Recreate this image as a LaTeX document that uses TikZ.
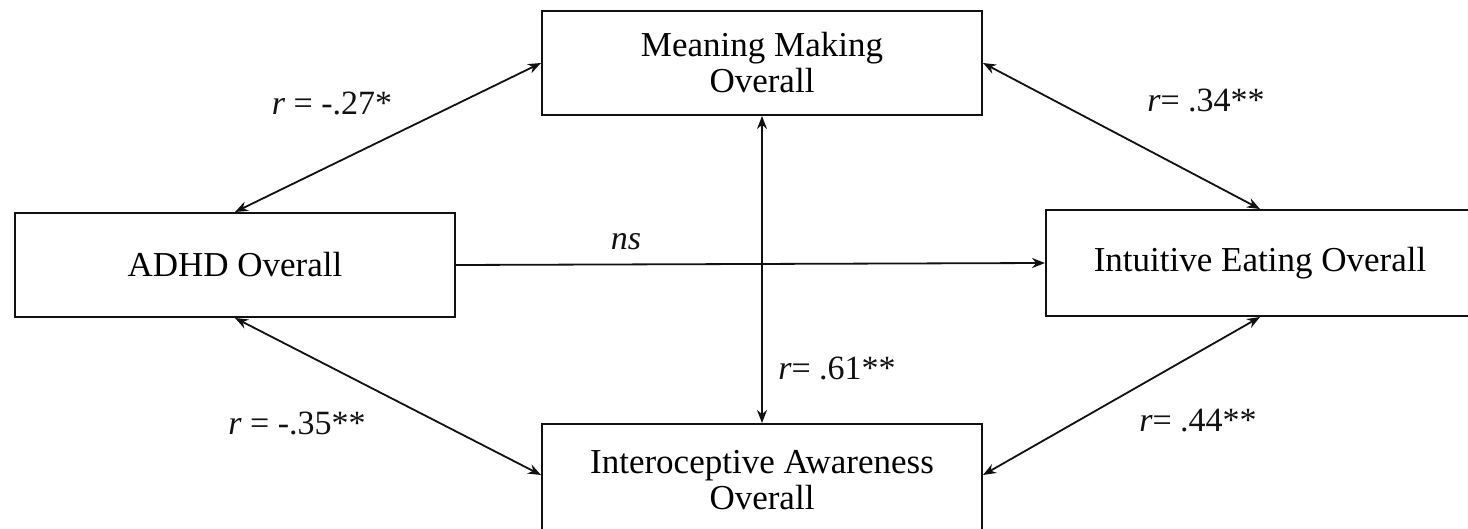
\documentclass[tikz,border=0pt]{standalone}
\usepackage{fontspec}
\setmainfont{Liberation Serif}
\usepackage{tikz}
\usetikzlibrary{arrows.meta,positioning}
\definecolor{ink}{HTML}{111111}
\tikzset{
  varbox/.style={rectangle, draw=ink, fill=white, line width=1pt, align=center,
                 inner sep=4pt, font=\rmfamily\fontsize{17.5}{18}\selectfont,
                 minimum width=220pt, minimum height=52pt},
  corr/.style={{Stealth[length=6.5pt,width=5pt]}-{Stealth[length=6.5pt,width=5pt]}, draw=ink, line width=0.9pt},
  path1/.style={-{Stealth[length=6.5pt,width=5pt]}, draw=ink, line width=0.9pt},
  coef/.style={font=\rmfamily\fontsize{17}{17}\selectfont, text=ink, inner sep=1pt}
}
\begin{document}
\begin{tikzpicture}[x=0.5pt,y=-0.5pt]
\clip (0,0) rectangle (1468,529);
\fill[white] (0,0) rectangle (1468,529);
% variables
\node[varbox] (mm) at (762,63) {Meaning Making\\Overall};
\node[varbox] (adhd) at (235,265) {ADHD Overall};
\node[varbox, minimum width=214pt, minimum height=53pt] (ie) at (1260,263) {Intuitive Eating Overall};
\node[varbox, minimum height=56pt] (ia) at (762,480) {Interoceptive Awareness\\Overall};
% correlations
\draw[corr] (adhd.north) -- (mm.west);
\draw[corr] ([yshift=2.5pt]ia.west) -- (adhd.south);
\draw[corr] (mm.east) -- (ie.north);
\draw[corr] ([yshift=2.5pt]ia.east) -- (ie.south);
\draw[corr] (mm.south) -- (ia.north);
\draw[path1] (adhd.east) -- (ie.west);
% coefficients
\node[coef] (l27) at (332,103) {\textit{r} = -.27*};
\node[coef] (l34) at (1206,100) {\textit{r}= .34**};
\node[coef] (lns) at (626,242) {\textit{ns}};
\node[coef] (l61) at (837,368) {\textit{r}= .61**};
\node[coef] (l35) at (297,423) {\textit{r} = -.35**};
\node[coef] (l44) at (1198,421) {\textit{r}= .44**};
\end{tikzpicture}
\end{document}
